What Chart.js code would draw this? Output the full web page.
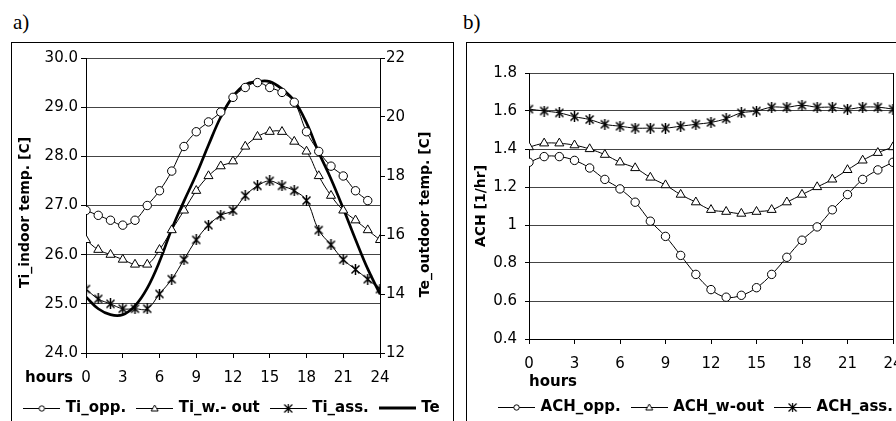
<!DOCTYPE html>
<html><head><meta charset="utf-8">
<script src="https://cdn.jsdelivr.net/npm/chart.js@4"></script>
<style>
html,body{margin:0;padding:0;background:#fff;width:896px;height:421px;overflow:hidden;position:relative;}
.frame{position:absolute;border:1px solid #000;background:#fff;}
.frame canvas{display:block;}
.lbl{position:absolute;font-family:"Liberation Serif","Times New Roman",serif;font-size:21px;line-height:21px;color:#000;}
</style></head><body>
<div class="lbl" style="left:13px;top:12px">a)</div>
<div class="lbl" style="left:463px;top:12px">b)</div>
<div class="frame" style="left:11px;top:42px;width:441px;height:392px"><canvas id="ca" width="441" height="392"></canvas></div>
<div class="frame" style="left:466px;top:42px;width:490px;height:392px"><canvas id="cb" width="490" height="392"></canvas></div>
<script>
// ---- data ----
const hours = [0,1,2,3,4,5,6,7,8,9,10,11,12,13,14,15,16,17,18,19,20,21,22,23,24];
const tiOpp  = [26.9,26.8,26.7,26.6,26.7,27.0,27.3,27.7,28.2,28.5,28.7,28.9,29.2,29.4,29.5,29.4,29.3,29.1,28.5,28.1,27.8,27.6,27.3,27.1,null];
const tiWout = [26.3,26.1,26.0,25.9,25.8,25.8,26.1,26.5,26.9,27.3,27.6,27.8,27.9,28.2,28.4,28.5,28.5,28.3,28.1,27.6,27.2,26.9,26.7,26.5,26.3];
const tiAss  = [25.3,25.1,25.0,24.9,24.9,24.9,25.2,25.5,25.9,26.3,26.6,26.8,26.9,27.2,27.4,27.5,27.4,27.3,27.1,26.5,26.2,25.9,25.7,25.5,25.3];
const teOut  = [13.9,13.5,13.3,13.3,13.6,14.2,15.1,16.2,17.15,18.05,19.05,20.0,20.7,21.1,21.2,21.2,20.95,20.55,19.8,18.8,17.9,16.9,15.85,14.85,14.0];
const achOpp  = [1.33,1.36,1.36,1.34,1.30,1.24,1.19,1.12,1.02,0.94,0.84,0.74,0.66,0.62,0.63,0.67,0.74,0.83,0.92,0.99,1.08,1.16,1.24,1.29,1.33];
const achWout = [1.41,1.43,1.43,1.42,1.40,1.37,1.33,1.30,1.25,1.21,1.16,1.12,1.08,1.07,1.06,1.07,1.08,1.12,1.16,1.20,1.24,1.29,1.34,1.38,1.41];
const achAss  = [1.61,1.60,1.59,1.57,1.555,1.53,1.52,1.51,1.51,1.51,1.52,1.53,1.54,1.56,1.59,1.60,1.62,1.62,1.63,1.62,1.62,1.61,1.62,1.62,1.61];
const labelsA = ['Ti_opp.','Ti_w.- out','Ti_ass.','Te'];
const labelsB = ['ACH_opp.','ACH_w-out','ACH_ass.'];
const titleLeftA = 'Ti_indoor temp. [C]';
const titleRightA = 'Te_outdoor temp. [C]';
const titleB = 'ACH [1/hr]';
const xTitle = 'hours';

Chart.defaults.font.family = '"DejaVu Sans", Arial, sans-serif';
Chart.defaults.color = '#000';

function pts(arr){ return hours.map((h,i)=>({x:h, y:arr[i]})); }

// custom marker: asterisk (X + vertical bar)
function asterisk(size){
  const c=document.createElement('canvas'); c.width=size; c.height=size;
  const g=c.getContext('2d'); g.strokeStyle='#000'; g.lineWidth=1.5;
  const m=size/2, e=size-1.5;
  g.beginPath();
  g.moveTo(m,0); g.lineTo(m,size);
  g.moveTo(1.5,1.5); g.lineTo(e,e);
  g.moveTo(e,1.5); g.lineTo(1.5,e);
  g.stroke();
  return c;
}
function sample(kind){
  const W=37,H=12; const c=document.createElement('canvas'); c.width=W; c.height=H;
  const g=c.getContext('2d'); g.strokeStyle='#000';
  if(kind==='thick'){ g.lineWidth=3; g.beginPath(); g.moveTo(0,6); g.lineTo(W,6); g.stroke(); return c; }
  g.lineWidth=1; g.beginPath(); g.moveTo(0,6.5); g.lineTo(W,6.5); g.stroke();
  const cx=Math.floor(W/2)+0.5, cy=6.5;
  g.fillStyle='#fff';
  if(kind==='circle'){ g.beginPath(); g.arc(cx,cy,2.7,0,Math.PI*2); g.fill(); g.stroke(); }
  else if(kind==='triangle'){ g.beginPath(); g.moveTo(cx,cy-3.5); g.lineTo(cx+3.5,cy+2.5); g.lineTo(cx-3.5,cy+2.5); g.closePath(); g.fill(); g.stroke(); }
  else if(kind==='star'){ g.lineWidth=1.2; g.beginPath(); g.moveTo(cx,cy-4.5); g.lineTo(cx,cy+4.5); g.moveTo(cx-4,cy-4); g.lineTo(cx+4,cy+4); g.moveTo(cx+4,cy-4); g.lineTo(cx-4,cy+4); g.stroke(); }
  return c;
}
const star = asterisk(11);
const samplesA=[sample('circle'),sample('triangle'),sample('star'),sample('thick')];
const samplesB=[sample('circle'),sample('triangle'),sample('star')];

function legendCfg(samples){
  return {
    position:'bottom',
    labels:{
      usePointStyle:true, pointStyleWidth:33, padding:12,
      font:{size:15, weight:'bold'}, color:'#000',
      generateLabels(chart){
        return chart.data.datasets.map((ds,i)=>({text:ds.label, pointStyle:samples[i], fillStyle:'#fff', strokeStyle:'#000', lineWidth:0, hidden:false, datasetIndex:i, fontColor:'#000'}));
      }
    }
  };
}
function ds(label, arr, style, extra){
  return Object.assign({label, data:pts(arr), borderColor:'#000', borderWidth:1, tension:0.4, fill:false,
    pointStyle:style, pointRadius:style==='triangle'?5.2:4.2, pointBackgroundColor:'#fff', pointBorderColor:'#000', pointBorderWidth:1,
    pointHoverRadius:4}, extra||{});
}
const fmt1 = v => Number(v).toFixed(1);
const fmtB = v => String(Number(Number(v).toFixed(1)));

const textA = {
  id:'textA',
  afterDraw(chart){
    const {ctx, scales:{x,y,y1}} = chart;
    ctx.save(); ctx.fillStyle='#000';
    ctx.font='bold 15px "DejaVu Sans"'; ctx.textAlign='right'; ctx.textBaseline='middle';
    ctx.fillText(xTitle, x.left-13, x.top+25);
    ctx.font='bold 14px "DejaVu Sans"'; ctx.textAlign='center';
    const cy=(y.top+y.bottom)/2;
    ctx.save(); ctx.translate(13, cy+7); ctx.rotate(-Math.PI/2); ctx.fillText(titleLeftA,0,0); ctx.restore();
    ctx.save(); ctx.translate(y1.left+45, cy+9); ctx.rotate(-Math.PI/2); ctx.fillText(titleRightA,0,0); ctx.restore();
    ctx.restore();
  }
};

new Chart(document.getElementById('ca'), {
  type:'line',
  data:{datasets:[
    ds(labelsA[0], tiOpp, 'circle'),
    ds(labelsA[1], tiWout, 'triangle'),
    ds(labelsA[2], tiAss, star),
    ds(labelsA[3], teOut, 'circle', {yAxisID:'y1', borderWidth:2.7, pointRadius:0, pointHoverRadius:0})
  ]},
  options:{
    responsive:false, animation:false, devicePixelRatio:1,
    layout:{padding:{top:15,left:0,right:0,bottom:9.5}},
    plugins:{legend:legendCfg(samplesA), tooltip:{enabled:false}},
    scales:{
      x:{type:'linear', min:0, max:24, ticks:{stepSize:3, font:{size:15}, padding:11, maxRotation:0},
         grid:{drawOnChartArea:false, tickLength:5, tickColor:'#000'}, border:{color:'#000'},
         afterFit(s){ s.height=35.5; }},
      y:{position:'left', min:24, max:30, ticks:{stepSize:1, callback:fmt1, font:{size:15}, padding:3},
         grid:{color:'#444', tickLength:5, tickColor:'#000'}, border:{color:'#000'},
         afterFit(s){ s.width=74; }},
      y1:{position:'right', min:12, max:22, ticks:{stepSize:2, font:{size:15}, padding:1},
         grid:{drawOnChartArea:false, tickLength:5, tickColor:'#000'}, border:{color:'#000'},
         afterFit(s){ s.width=73; }}
    }
  },
  plugins:[textA]
});

new Chart(document.getElementById('cb'), {
  type:'line',
  data:{datasets:[
    ds(labelsB[0], achOpp, 'circle'),
    ds(labelsB[1], achWout, 'triangle'),
    ds(labelsB[2], achAss, star)
  ]},
  options:{
    responsive:false, animation:false, devicePixelRatio:1,
    layout:{padding:{top:30,left:0,right:31,bottom:10.5}},
    plugins:{legend:legendCfg(samplesB), tooltip:{enabled:false}},
    scales:{
      x:{type:'linear', min:0, max:24, ticks:{stepSize:3, font:{size:15}, padding:11, maxRotation:0},
         title:{display:true, text:xTitle, align:'start', font:{size:15, weight:'bold', lineHeight:1}, padding:{top:0,bottom:-2}},
         grid:{drawOnChartArea:true, color:c=>(c.tick && c.tick.value===24)?'#000':'rgba(0,0,0,0)', tickLength:5, tickColor:'#000'},
         border:{color:'#000'},
         afterFit(s){ s.height=48.5; }},
      y:{position:'left', min:0.4, max:1.8, ticks:{stepSize:0.2, callback:fmtB, font:{size:15}, padding:8},
         title:{display:true, text:titleB, font:{size:14, weight:'bold', lineHeight:1}, padding:{top:7,bottom:0}},
         grid:{color:'#444', tickLength:4, tickColor:'#000'}, border:{color:'#000'},
         afterFit(s){ s.width=62; }},
      spacer:{position:'right', display:true, grid:{display:false, drawTicks:false}, border:{display:false},
         ticks:{display:false}, afterFit(s){ s.width=33; }}
    }
  }
});
</script>
</body></html>
